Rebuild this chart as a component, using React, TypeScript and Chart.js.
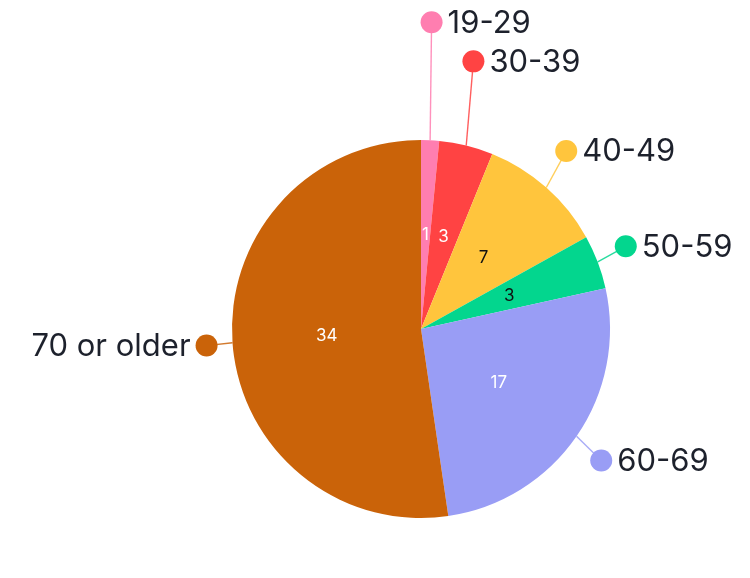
import React, { useEffect, useRef } from "react";
import { Chart, registerables } from "chart.js";

Chart.register(...registerables);

const categories = ["19-29", "30-39", "40-49", "50-59", "60-69", "70 or older"];
const counts = [1, 3, 7, 3, 17, 34];
const sliceColors = ["#FF7EB0", "#FF4343", "#FFC53D", "#03D68E", "#999DF5", "#CA6309"];
const valueTextColors = ["#ffffff", "#ffffff", "#111111", "#111111", "#ffffff", "#ffffff"];
// vertical nudges for outside labels to avoid overlap
const labelNudgeY = [-88, -55, -14, -5, 7, 1];

const outsideLabels = {
  id: "outsideLabels",
  afterDatasetsDraw(chart: any) {
    const ctx = chart.ctx;
    const meta = chart.getDatasetMeta(0);
    meta.data.forEach((arc: any, i: number) => {
      const { x, y, startAngle, endAngle, outerRadius } = arc.getProps(
        ["x", "y", "startAngle", "endAngle", "outerRadius"],
        true
      );
      const mid = (startAngle + endAngle) / 2;
      const cos = Math.cos(mid);
      const sin = Math.sin(mid);
      const ax = x + outerRadius * cos;
      const ay = y + outerRadius * sin;
      const ext = cos >= 0 ? 30 : 26;
      const dx = x + (outerRadius + ext) * cos;
      const dy = y + (outerRadius + ext) * sin + labelNudgeY[i];
      ctx.save();
      ctx.strokeStyle = sliceColors[i];
      ctx.globalAlpha = 0.85;
      ctx.lineWidth = 1.4;
      ctx.beginPath();
      ctx.moveTo(ax, ay);
      ctx.lineTo(dx, dy);
      ctx.stroke();
      ctx.globalAlpha = 1;
      ctx.fillStyle = sliceColors[i];
      ctx.beginPath();
      ctx.arc(dx, dy, 11, 0, Math.PI * 2);
      ctx.fill();
      ctx.fillStyle = "#1d212c";
      ctx.font = '31px "Inter", sans-serif';
      ctx.textBaseline = "middle";
      const right = cos >= 0;
      ctx.textAlign = right ? "left" : "right";
      ctx.fillText(categories[i], right ? dx + 16 : dx - 16, dy + 1);

      // value label
      const p = arc.tooltipPosition();
      ctx.fillStyle = valueTextColors[i];
      ctx.font = '17px "Inter", sans-serif';
      ctx.textAlign = "center";
      ctx.textBaseline = "middle";
      ctx.fillText(String(counts[i]), p.x, p.y);
      ctx.restore();
    });
  },
};

export default function App() {
  const ref = useRef<HTMLCanvasElement>(null);
  useEffect(() => {
    if (!ref.current) return;
    const chart = new Chart(ref.current, {
      type: "pie",
      data: {
        labels: categories,
        datasets: [
          {
            data: counts,
            backgroundColor: sliceColors,
            borderWidth: 0,
          },
        ],
      },
      options: {
        responsive: false,
        animation: false,
        layout: { padding: { left: 232, right: 140, top: 140, bottom: 60 } },
        plugins: {
          legend: { display: false },
          tooltip: { enabled: false },
        },
      },
      plugins: [outsideLabels],
    });
    return () => chart.destroy();
  }, []);
  return (
    <div style={{ position: "absolute", left: 0, top: 0, width: 750, height: 578, background: "#fff" }}>
      <canvas ref={ref} width={750} height={578} style={{ width: 750, height: 578 }} />
    </div>
  );
}
